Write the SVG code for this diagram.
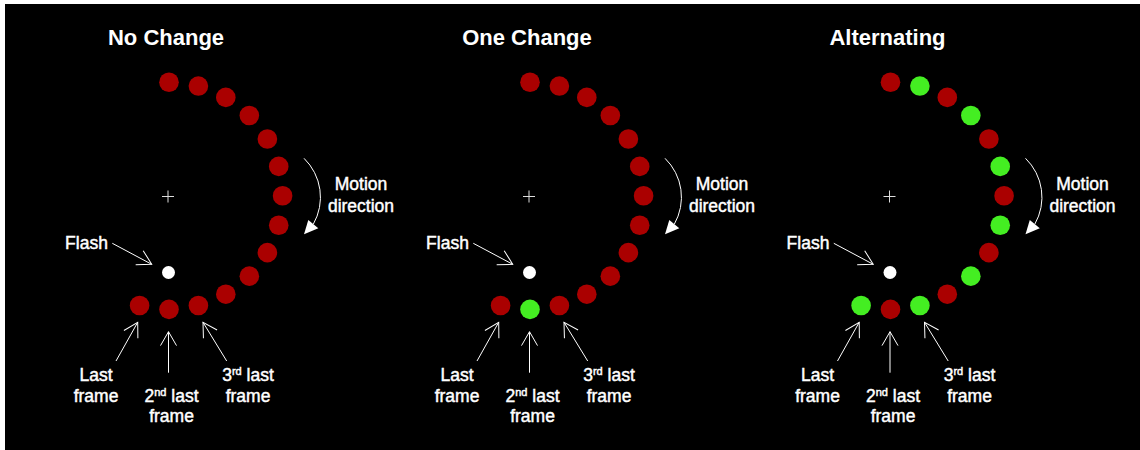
<svg xmlns="http://www.w3.org/2000/svg" width="1140" height="450" viewBox="0 0 1140 450">
<style>
.title{font-family:"Liberation Sans",Arial,sans-serif;font-weight:bold;font-size:22px;fill:#fff;text-anchor:middle}
.lbl{font-family:"Liberation Sans",Arial,sans-serif;font-size:17.5px;fill:#fff;stroke:#fff;stroke-width:0.45;text-anchor:middle}
.sup{font-size:11px}
.r{fill:#aa0000}
.g{fill:#44ee22}
.flash{fill:#fff}
.cross{stroke:#ddd;stroke-width:1;fill:none}
.conn{stroke:#fff;stroke-width:1;fill:none;marker-end:url(#openHead)}
.motion{stroke:#fff;stroke-width:1;fill:none}
.mhead{fill:#fff}
</style>
<defs>
<marker id="openHead" markerUnits="userSpaceOnUse" markerWidth="20" markerHeight="20" refX="0" refY="0" orient="auto" overflow="visible">
<path d="M-13.9,-8 L0,0 L-13.9,8" fill="none" stroke="#fff" stroke-width="1"/>
</marker>
</defs>
<rect x="0" y="0" width="1140" height="450" fill="#fff"/>
<rect x="5" y="4" width="1135" height="446" fill="#000"/>

<!-- Panel 1 -->
<g id="panel-no-change">
<text class="title" x="166" y="45">No Change</text>
<g id="nc-fixation"><path class="cross" d="M162,196.5 H174 M168,190.5 V202.5"/></g>
<g id="nc-dots">
<circle class="r" cx="169" cy="82.2" r="9.8"/>
<circle class="r" cx="198.4" cy="86.07" r="9.8"/>
<circle class="r" cx="225.8" cy="97.42" r="9.8"/>
<circle class="r" cx="249.33" cy="115.47" r="9.8"/>
<circle class="r" cx="267.38" cy="139" r="9.8"/>
<circle class="r" cx="278.73" cy="166.4" r="9.8"/>
<circle class="r" cx="282.6" cy="195.8" r="9.8"/>
<circle class="r" cx="278.73" cy="225.2" r="9.8"/>
<circle class="r" cx="267.38" cy="252.6" r="9.8"/>
<circle class="r" cx="249.33" cy="276.13" r="9.8"/>
<circle class="r" cx="225.8" cy="294.18" r="9.8"/>
<circle class="r" cx="198.4" cy="305.53" r="9.8"/>
<circle class="r" cx="169" cy="309.4" r="9.8"/>
<circle class="r" cx="139.6" cy="305.53" r="9.8"/>
</g>
<g id="nc-flash"><circle class="flash" cx="168.5" cy="272.5" r="6.5"/></g>
<g id="nc-labels">
<text class="lbl" x="86.5" y="249">Flash</text>
<text class="lbl" x="361" y="190">Motion<tspan x="361" y="211.5">direction</tspan></text>
<text class="lbl" x="96" y="381">Last<tspan x="96" y="401.7">frame</tspan></text>
<text class="lbl" x="171.5" y="401.7">2<tspan class="sup" dy="-6">nd</tspan><tspan dy="6"> last</tspan><tspan x="171.5" y="422">frame</tspan></text>
<text class="lbl" x="248" y="381">3<tspan class="sup" dy="-6">rd</tspan><tspan dy="6"> last</tspan><tspan x="248" y="401.7">frame</tspan></text>
</g>
<g id="nc-connectors">
<path class="conn" d="M112.3,243.3 L151.7,264.3"/>
<path class="conn" d="M116,361 L137.7,322.3"/>
<path class="conn" d="M168.5,372.7 L168.5,331.7"/>
<path class="conn" d="M226.7,361 L203,322.3"/>
<path class="motion" d="M304,158.3 A54.3,54.3 0 0 1 313.3,224.2"/>
<polygon class="mhead" points="304,234.3 308.3,220 318.3,228.3"/>
</g>
</g>

<!-- Panel 2 -->
<g id="panel-one-change" transform="translate(361,0)">
<text class="title" x="166" y="45">One Change</text>
<g id="oc-fixation"><path class="cross" d="M162,196.5 H174 M168,190.5 V202.5"/></g>
<g id="oc-dots">
<circle class="r" cx="169" cy="82.2" r="9.8"/>
<circle class="r" cx="198.4" cy="86.07" r="9.8"/>
<circle class="r" cx="225.8" cy="97.42" r="9.8"/>
<circle class="r" cx="249.33" cy="115.47" r="9.8"/>
<circle class="r" cx="267.38" cy="139" r="9.8"/>
<circle class="r" cx="278.73" cy="166.4" r="9.8"/>
<circle class="r" cx="282.6" cy="195.8" r="9.8"/>
<circle class="r" cx="278.73" cy="225.2" r="9.8"/>
<circle class="r" cx="267.38" cy="252.6" r="9.8"/>
<circle class="r" cx="249.33" cy="276.13" r="9.8"/>
<circle class="r" cx="225.8" cy="294.18" r="9.8"/>
<circle class="r" cx="198.4" cy="305.53" r="9.8"/>
<circle class="g" cx="169" cy="309.4" r="9.8"/>
<circle class="r" cx="139.6" cy="305.53" r="9.8"/>
</g>
<g id="oc-flash"><circle class="flash" cx="168.5" cy="272.5" r="6.5"/></g>
<g id="oc-labels">
<text class="lbl" x="86.5" y="249">Flash</text>
<text class="lbl" x="361" y="190">Motion<tspan x="361" y="211.5">direction</tspan></text>
<text class="lbl" x="96" y="381">Last<tspan x="96" y="401.7">frame</tspan></text>
<text class="lbl" x="171.5" y="401.7">2<tspan class="sup" dy="-6">nd</tspan><tspan dy="6"> last</tspan><tspan x="171.5" y="422">frame</tspan></text>
<text class="lbl" x="248" y="381">3<tspan class="sup" dy="-6">rd</tspan><tspan dy="6"> last</tspan><tspan x="248" y="401.7">frame</tspan></text>
</g>
<g id="oc-connectors">
<path class="conn" d="M112.3,243.3 L151.7,264.3"/>
<path class="conn" d="M116,361 L137.7,322.3"/>
<path class="conn" d="M168.5,372.7 L168.5,331.7"/>
<path class="conn" d="M226.7,361 L203,322.3"/>
<path class="motion" d="M304,158.3 A54.3,54.3 0 0 1 313.3,224.2"/>
<polygon class="mhead" points="304,234.3 308.3,220 318.3,228.3"/>
</g>
</g>

<!-- Panel 3 -->
<g id="panel-alternating" transform="translate(721.5,0)">
<text class="title" x="166" y="45">Alternating</text>
<g id="al-fixation"><path class="cross" d="M162,196.5 H174 M168,190.5 V202.5"/></g>
<g id="al-dots">
<circle class="r" cx="169" cy="82.2" r="9.8"/>
<circle class="g" cx="198.4" cy="86.07" r="9.8"/>
<circle class="r" cx="225.8" cy="97.42" r="9.8"/>
<circle class="g" cx="249.33" cy="115.47" r="9.8"/>
<circle class="r" cx="267.38" cy="139" r="9.8"/>
<circle class="g" cx="278.73" cy="166.4" r="9.8"/>
<circle class="r" cx="282.6" cy="195.8" r="9.8"/>
<circle class="g" cx="278.73" cy="225.2" r="9.8"/>
<circle class="r" cx="267.38" cy="252.6" r="9.8"/>
<circle class="g" cx="249.33" cy="276.13" r="9.8"/>
<circle class="r" cx="225.8" cy="294.18" r="9.8"/>
<circle class="g" cx="198.4" cy="305.53" r="9.8"/>
<circle class="r" cx="169" cy="309.4" r="9.8"/>
<circle class="g" cx="139.6" cy="305.53" r="9.8"/>
</g>
<g id="al-flash"><circle class="flash" cx="168.5" cy="272.5" r="6.5"/></g>
<g id="al-labels">
<text class="lbl" x="86.5" y="249">Flash</text>
<text class="lbl" x="361" y="190">Motion<tspan x="361" y="211.5">direction</tspan></text>
<text class="lbl" x="96" y="381">Last<tspan x="96" y="401.7">frame</tspan></text>
<text class="lbl" x="171.5" y="401.7">2<tspan class="sup" dy="-6">nd</tspan><tspan dy="6"> last</tspan><tspan x="171.5" y="422">frame</tspan></text>
<text class="lbl" x="248" y="381">3<tspan class="sup" dy="-6">rd</tspan><tspan dy="6"> last</tspan><tspan x="248" y="401.7">frame</tspan></text>
</g>
<g id="al-connectors">
<path class="conn" d="M112.3,243.3 L151.7,264.3"/>
<path class="conn" d="M116,361 L137.7,322.3"/>
<path class="conn" d="M168.5,372.7 L168.5,331.7"/>
<path class="conn" d="M226.7,361 L203,322.3"/>
<path class="motion" d="M304,158.3 A54.3,54.3 0 0 1 313.3,224.2"/>
<polygon class="mhead" points="304,234.3 308.3,220 318.3,228.3"/>
</g>
</g>
</svg>
